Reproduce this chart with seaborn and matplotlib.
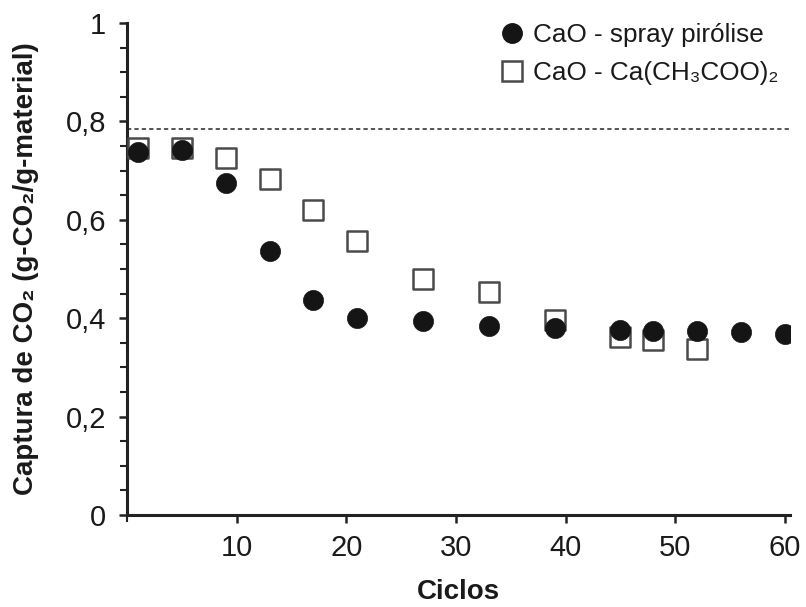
import matplotlib
matplotlib.use("Agg")
import matplotlib.pyplot as plt
import seaborn as sns
import pandas as pd
from matplotlib.ticker import MultipleLocator, FixedLocator
from matplotlib.lines import Line2D

# Data
ciclos_spray = [1, 5, 9, 13, 17, 21, 27, 33, 39, 45, 48, 52, 56, 60]
captura_spray = [0.738, 0.741, 0.674, 0.537, 0.438, 0.400, 0.394, 0.384, 0.381, 0.377, 0.373, 0.373, 0.371, 0.368]
ciclos_acet = [1, 5, 9, 13, 17, 21, 27, 33, 39, 45, 48, 52]
captura_acet = [0.746, 0.747, 0.726, 0.683, 0.620, 0.556, 0.480, 0.453, 0.396, 0.361, 0.356, 0.337]
teorico = 0.785
label_spray = "CaO - spray pirólise"
label_acet = "CaO - Ca(CH₃COO)₂"
xticks = [10, 20, 30, 40, 50, 60]
yticks = [0, 0.2, 0.4, 0.6, 0.8, 1.0]
yticklabels = ["0", "0,2", "0,4", "0,6", "0,8", "1"]

sns.set_theme(style="white")
plt.rcParams['font.family'] = ['Liberation Sans', 'DejaVu Sans']
fs_tick, fs_leg, fs_xl, fs_yl = 21, 18.8, 20, 20
txt = "#1a1a1a"

fig = plt.figure(figsize=(8.06, 6.07), dpi=100)
ax = fig.add_axes([0.1576, 0.1516, 0.980 - 0.1576, 0.962 - 0.1516])

df_s = pd.DataFrame({"Ciclos": ciclos_spray, "Captura": captura_spray})
df_a = pd.DataFrame({"Ciclos": ciclos_acet, "Captura": captura_acet})

ax.axhline(teorico, color="#555555", linestyle=(0, (2.2, 1.6)), linewidth=1.4, zorder=1)

sns.scatterplot(data=df_a, x="Ciclos", y="Captura", ax=ax, marker="s", s=210,
                facecolor="white", edgecolor="#4a4a4a", linewidth=1.8, zorder=3, legend=False)
sns.scatterplot(data=df_s, x="Ciclos", y="Captura", ax=ax, marker="o", s=210,
                color="#151515", edgecolor="#151515", linewidth=0.5, zorder=4, legend=False)

ax.set_xlim(0, 60.45)
ax.set_ylim(0, 1.0)
ax.xaxis.set_major_locator(FixedLocator(xticks))
ax.set_yticks(yticks)
ax.set_yticklabels(yticklabels)
ax.yaxis.set_minor_locator(MultipleLocator(0.05))
ax.xaxis.set_minor_locator(FixedLocator([0]))

for side in ["top", "right"]:
    ax.spines[side].set_visible(False)
for side in ["left", "bottom"]:
    ax.spines[side].set_color("#222222")
    ax.spines[side].set_linewidth(2.2)

ax.tick_params(axis="both", which="major", direction="out", length=6, width=1.8,
               color="#222222", labelsize=fs_tick, labelcolor=txt)
ax.tick_params(axis="y", which="major", pad=9)
ax.tick_params(axis="x", which="major", pad=8)
ax.tick_params(axis="both", which="minor", direction="out", length=5, width=1.5, color="#222222")
ax.tick_params(axis="y", which="both", left=True)
ax.tick_params(axis="x", which="both", bottom=True)

ax.set_xlabel("Ciclos", fontsize=fs_xl, fontweight="bold", color=txt, labelpad=12)
ax.set_ylabel("Captura de CO₂ (g-CO₂/g-material)", fontsize=fs_yl, fontweight="bold", color=txt, labelpad=19)

handles = [
    Line2D([], [], marker="o", linestyle="none", markersize=14, markerfacecolor="#151515", markeredgecolor="#151515"),
    Line2D([], [], marker="s", linestyle="none", markersize=14, markerfacecolor="white", markeredgecolor="#4a4a4a", markeredgewidth=1.8),
]
leg = ax.legend(handles, [label_spray, label_acet], loc="upper left", bbox_to_anchor=(0.561, 1.0),
                frameon=False, fontsize=fs_leg, handletextpad=0.3, labelspacing=0.55, handlelength=1.0,
                borderaxespad=0, borderpad=0)
for t in leg.get_texts():
    t.set_color(txt)

fig.savefig("out.png", dpi=100)
